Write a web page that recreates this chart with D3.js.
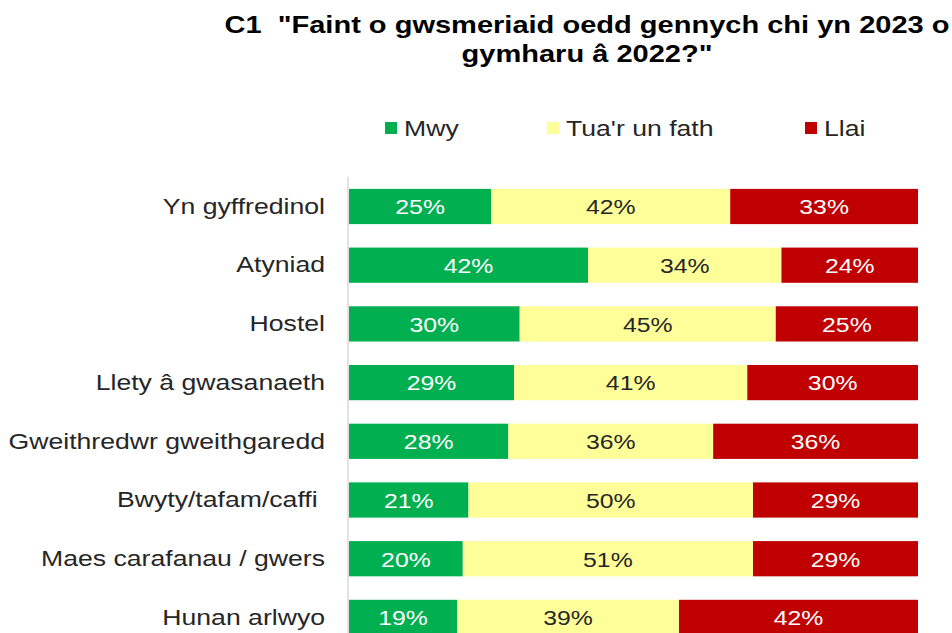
<!DOCTYPE html>
<html>
<head>
<meta charset="utf-8">
<script src="https://cdn.jsdelivr.net/npm/d3@7"></script>
<style>
  html, body { margin: 0; padding: 0; background: #fff; overflow: hidden; }
  text { font-family: "Liberation Sans", Arial, sans-serif; white-space: pre; }
</style>
</head>
<body>
<svg id="chart" width="952" height="633"></svg>
<script>
const titleLines = ["C1  \"Faint o gwsmeriaid oedd gennych chi yn 2023 o", "gymharu â 2022?\""];
const categories = ["Yn gyffredinol", "Atyniad", "Hostel", "Llety â gwasanaeth", "Gweithredwr gweithgaredd", "Bwyty/tafam/caffi ", "Maes carafanau / gwers", "Hunan arlwyo"];
const seriesNames = ["Mwy", "Tua'r un fath", "Llai"];
const mwy  = [25, 42, 30, 29, 28, 21, 20, 19];
const tua  = [42, 34, 45, 41, 36, 50, 51, 39];
const llai = [33, 24, 25, 30, 36, 29, 29, 42];
const seriesColors = ["#00B050", "#FFFF99", "#C00000"];
const labelColors = ["#ffffff", "#262626", "#ffffff"];

const SX = 1.21; // horizontal stretch of the original image's text
const svg = d3.select("#chart");

const rows = categories.map((c, i) => ({ cat: c, vals: [mwy[i], tua[i], llai[i]] }));

const x = d3.scaleLinear().domain([0, 100]).range([349, 918]);
const y = d3.scaleBand().domain(categories).range([165.4, 658.5]).padding(0.4);

// Title
const titleCx = 587;
titleLines.forEach((t, i) => {
  svg.append("text")
    .attr("transform", `translate(${titleCx},${33 + i * 29}) scale(${SX},1)`)
    .attr("text-anchor", "middle")
    .attr("font-size", 24).attr("font-weight", "bold").attr("fill", "#000")
    .text(t);
});

// Legend
const legendX = [385, 547, 805];
seriesNames.forEach((n, i) => {
  svg.append("rect").attr("x", legendX[i]).attr("y", 122).attr("width", 12).attr("height", 12)
    .attr("fill", seriesColors[i]);
  svg.append("text")
    .attr("transform", `translate(${legendX[i] + 19},136) scale(${SX},1)`)
    .attr("font-size", 22).attr("fill", "#262626")
    .text(n);
});

// Stacked bars
const stack = d3.stack().keys([0, 1, 2]).value((d, k) => d.vals[k]);
const layers = stack(rows);

const g = svg.append("g");
layers.forEach((layer, k) => {
  g.selectAll(null).data(layer).enter().append("rect")
    .attr("x", d => x(d[0]))
    .attr("y", d => y(d.data.cat))
    .attr("width", d => x(d[1]) - x(d[0]))
    .attr("height", y.bandwidth())
    .attr("fill", seriesColors[k]);
  g.selectAll(null).data(layer).enter().append("text")
    .attr("transform", d => `translate(${(x(d[0]) + x(d[1])) / 2},${y(d.data.cat) + y.bandwidth() / 2}) scale(${SX},1)`)
    .attr("dy", "0.38em")
    .attr("text-anchor", "middle")
    .attr("font-size", 20.5)
    .attr("fill", labelColors[k])
    .text(d => (d[1] - d[0]) + "%");
});

// Category axis line
const step = y.step();
svg.append("line")
  .attr("x1", 348).attr("x2", 348)
  .attr("y1", y(categories[0]) - step * 0.2)
  .attr("y2", y.range()[1])
  .attr("stroke", "#D9D9D9").attr("stroke-width", 1.5);

// Category labels
categories.forEach(c => {
  svg.append("text")
    .attr("transform", `translate(325,${y(c) + y.bandwidth() / 2}) scale(${SX},1)`)
    .attr("dy", "0.33em")
    .attr("text-anchor", "end")
    .attr("font-size", 22)
    .attr("fill", "#262626")
    .text(c);
});
</script>
</body>
</html>
